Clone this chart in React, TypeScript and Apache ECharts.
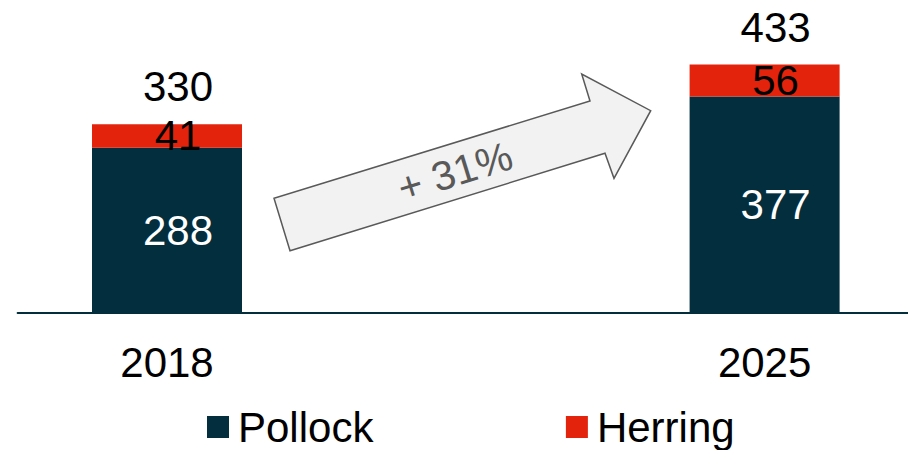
import React, { useEffect, useRef } from "react";
import * as echarts from "echarts";

const years = ["2018", "2025"];
const pollock = [288, 377];
const herring = [41, 56];
const totals = [330, 433];
const growthLabel = "+ 31%";
const seriesNames = ["Pollock", "Herring"];

const FONT = "'Liberation Sans', Arial, sans-serif";
const DARK = "#032E3D";
const RED = "#E3230B";

export default function App() {
  const ref = useRef<HTMLDivElement>(null);

  useEffect(() => {
    document.body.style.margin = "0";
    document.body.style.overflow = "hidden";
    if (!ref.current) return;
    const chart = echarts.init(ref.current, undefined, { renderer: "svg" });

    const cats = [years[0], "", years[1]];
    const spread = (arr: number[]) => [arr[0], "-", arr[1]];

    const arrowPts = [
      [290, 250.7],
      [274, 198.3],
      [590, 101],
      [581.7, 74],
      [650.7, 110.7],
      [614, 178.3],
      [605, 153.3],
    ];

    chart.setOption({
      animation: false,
      grid: { left: 17.6, right: 1, top: 26, bottom: 137, containLabel: false },
      xAxis: {
        type: "category",
        data: cats,
        axisLine: { show: true, lineStyle: { color: DARK, width: 2 } },
        axisTick: { show: false },
        axisLabel: { fontSize: 42, color: "#000", fontFamily: FONT, margin: 28 },
      },
      yAxis: { type: "value", min: 0, max: 500, show: false, splitLine: { show: false } },
      legend: {
        data: seriesNames,
        left: 207,
        top: 406,
        padding: 0,
        itemWidth: 22,
        itemHeight: 22,
        itemGap: 192.5,
        icon: "rect",
        selectedMode: false,
        textStyle: {
          fontSize: 42,
          color: "#000",
          fontFamily: FONT,
          padding: [0, 0, 6, 4],
        },
      },
      series: [
        {
          name: seriesNames[0],
          type: "bar",
          stack: "total",
          barWidth: 150,
          barGap: "-100%",
          data: spread(pollock),
          itemStyle: { color: DARK },
          label: {
            show: true,
            position: "inside",
            offset: [11, 0],
            color: "#fff",
            fontSize: 42,
            fontFamily: FONT,
          },
          silent: true,
        },
        {
          name: seriesNames[1],
          type: "bar",
          stack: "total",
          barWidth: 150,
          barGap: "-100%",
          data: spread(herring),
          itemStyle: { color: RED },
          label: {
            show: true,
            position: "inside",
            offset: [11, 0],
            color: "#000",
            fontSize: 42,
            fontFamily: FONT,
          },
          silent: true,
        },
        {
          name: "Total",
          type: "bar",
          barWidth: 150,
          barGap: "-100%",
          data: spread(totals),
          itemStyle: { color: "rgba(0,0,0,0)" },
          label: {
            show: true,
            position: "top",
            distance: 16,
            offset: [11, 0],
            color: "#000",
            fontSize: 42,
            fontFamily: FONT,
          },
          z: 5,
          silent: true,
        },
      ],
      graphic: [
        {
          type: "polygon",
          shape: { points: arrowPts },
          style: { fill: "#F2F2F2", stroke: "#595959", lineWidth: 1.5 },
          z: 10,
        },
        {
          type: "text",
          x: 455,
          y: 172,
          rotation: 0.299,
          style: {
            text: growthLabel,
            font: `41px ${FONT}`,
            fill: "#595959",
            align: "center",
            verticalAlign: "middle",
          },
          z: 11,
        },
      ],
    });

    return () => chart.dispose();
  }, []);

  return <div ref={ref} style={{ width: 915, height: 450 }} />;
}
